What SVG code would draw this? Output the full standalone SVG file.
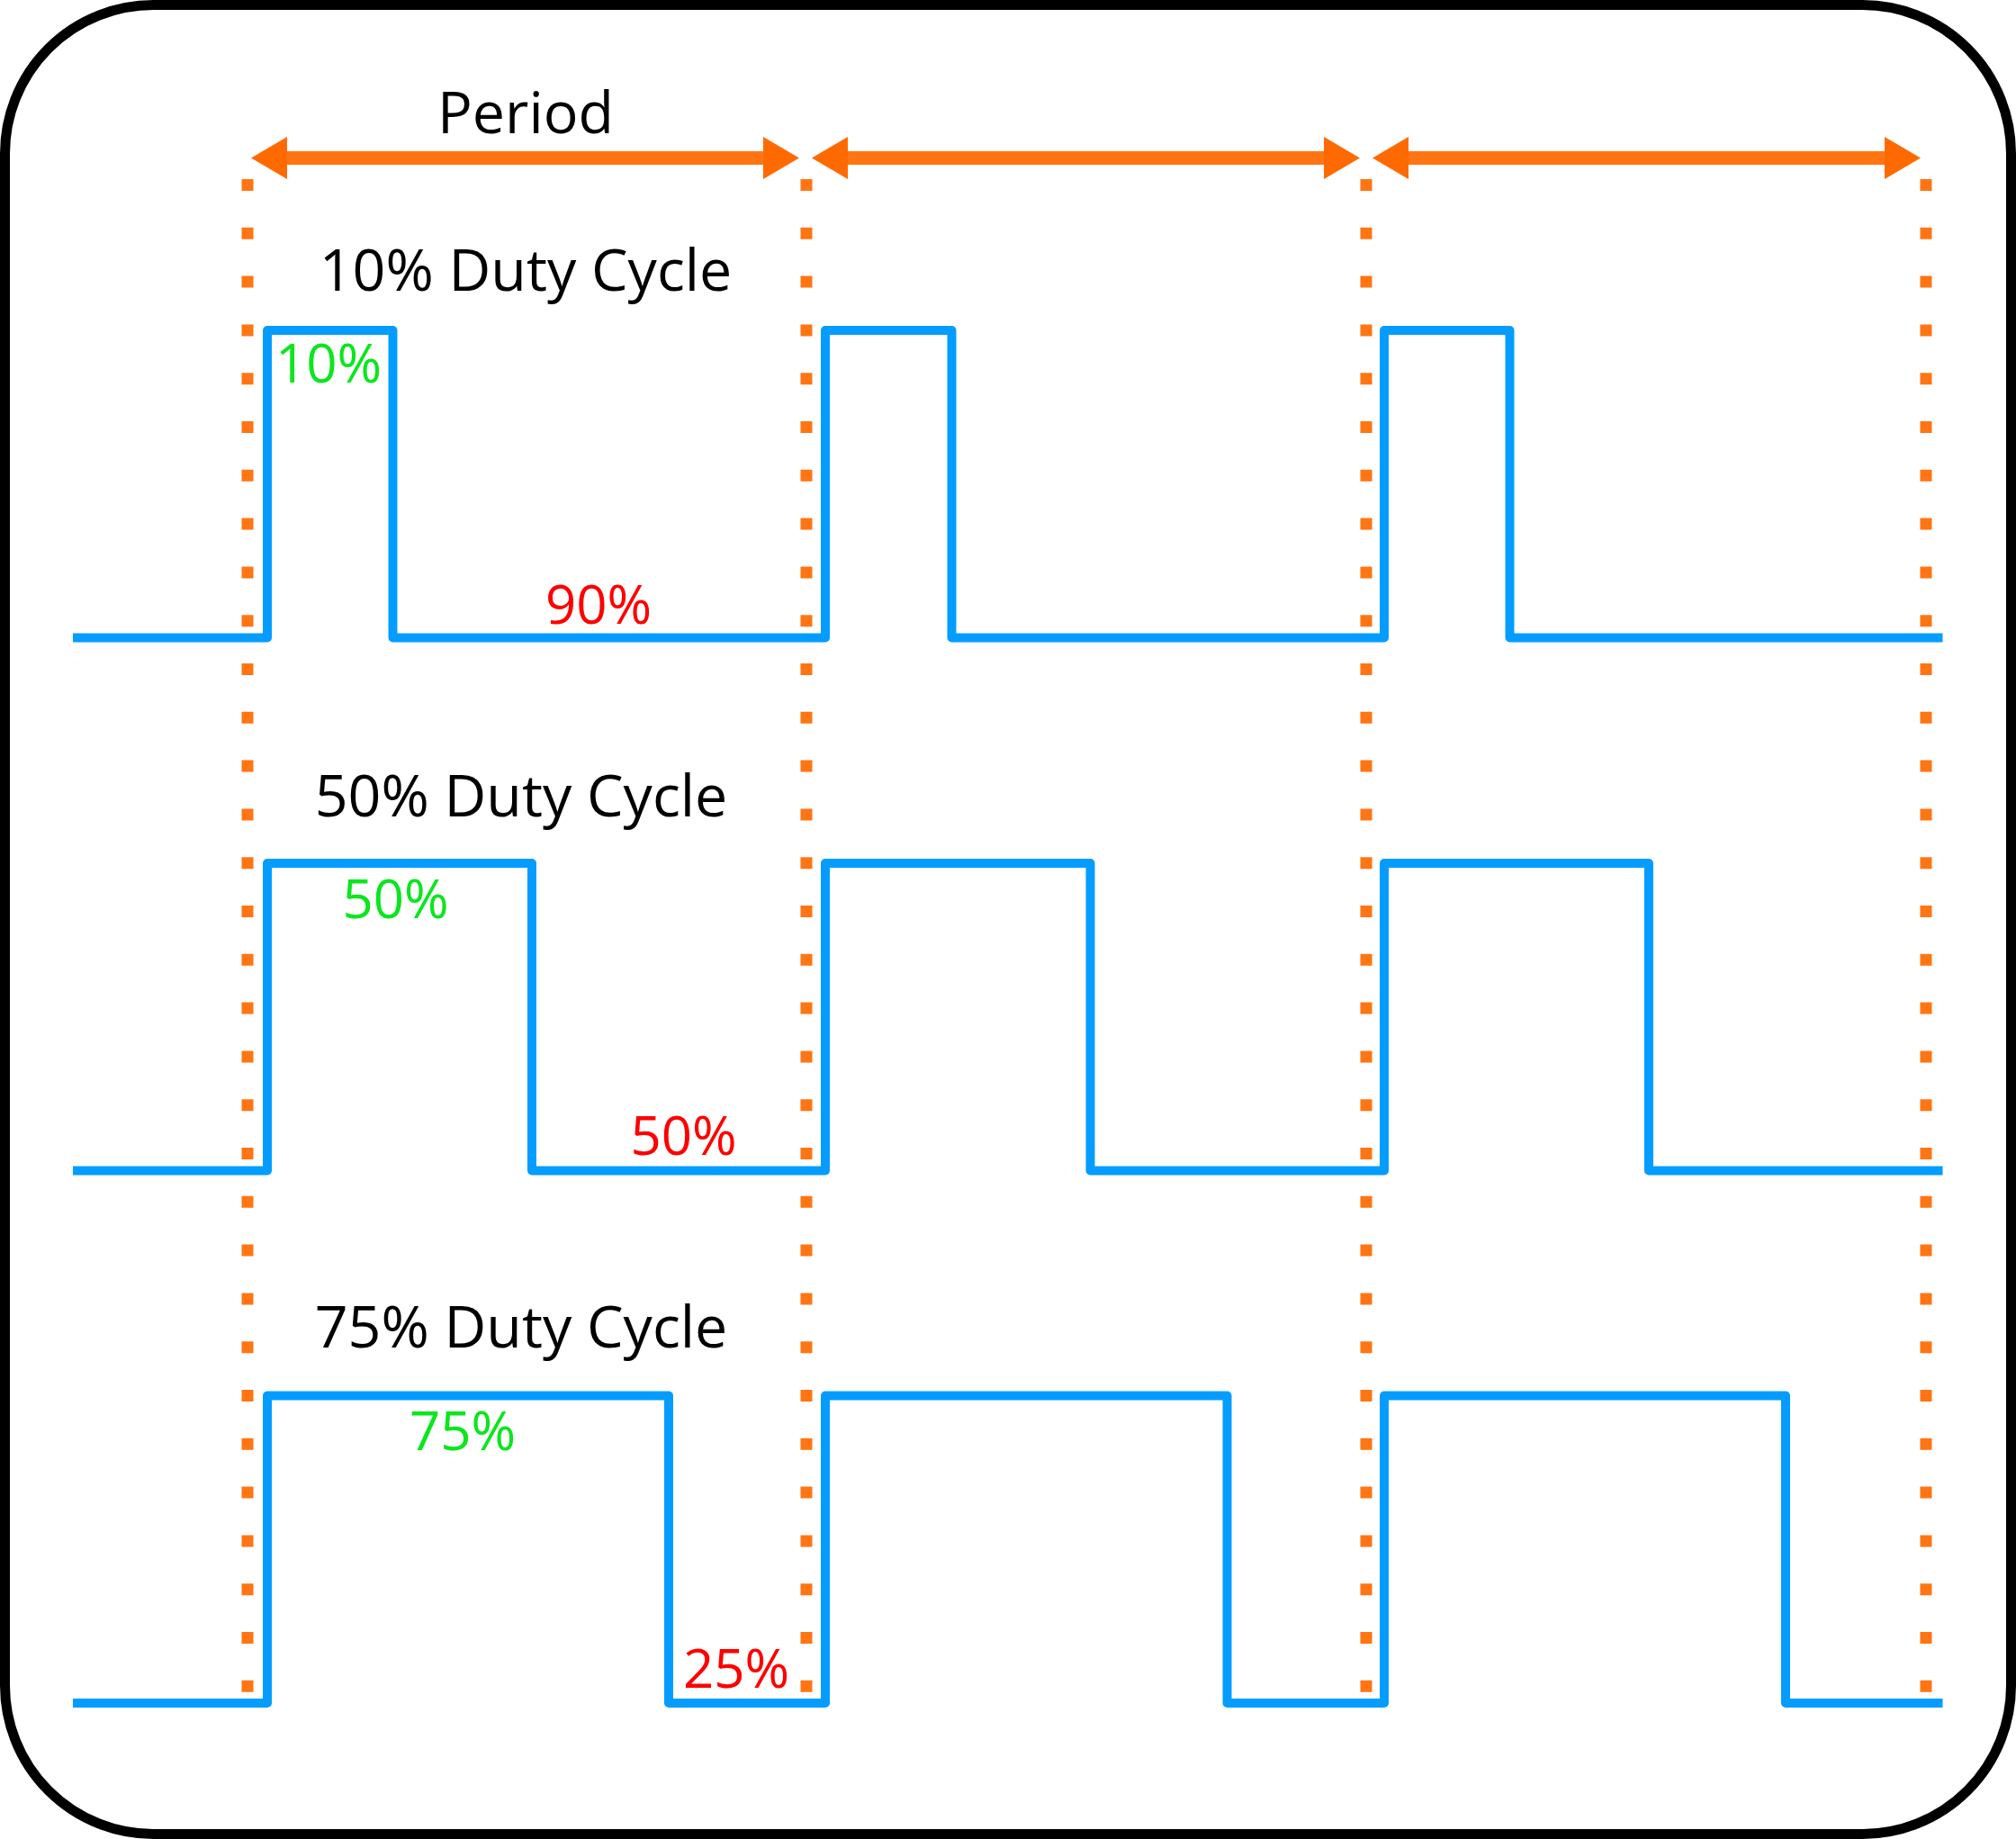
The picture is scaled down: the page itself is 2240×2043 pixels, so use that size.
<svg xmlns="http://www.w3.org/2000/svg" width="2240" height="2043" viewBox="0 0 2240 2043">
<style>
.frame{fill:#fff;stroke:#000;stroke-width:11}
.grid{stroke:#ff7514;stroke-width:13;stroke-dasharray:13 40.8;fill:none}
.arrow{stroke:#ff7514;stroke-width:15;fill:none;marker-start:url(#head);marker-end:url(#head)}
.wave{fill:none;stroke:#049dff;stroke-width:10;stroke-linejoin:round;stroke-linecap:butt}
.title{font-family:"Open Sans","Noto Sans",sans-serif;font-size:64.5px;fill:#000;text-anchor:middle}
.pct{font-family:"Open Sans","Noto Sans",sans-serif;font-size:60px;text-anchor:middle}
.hi{fill:#0be61e}
.lo{fill:#ff0000}
</style>
<defs>
<marker id="head" markerUnits="userSpaceOnUse" markerWidth="40" markerHeight="47" refX="0" refY="23.5" orient="auto-start-reverse" overflow="visible">
<path d="M0,0 L40,23.5 L0,47 Z" fill="#ff6a00"/>
</marker>
</defs>
<rect class="frame" x="5.5" y="5.5" width="2229" height="2032" rx="165" ry="165"/>
<g id="gridlines">
<line class="grid" x1="275" y1="199" x2="275" y2="1882"/>
<line class="grid" x1="896" y1="199" x2="896" y2="1882"/>
<line class="grid" x1="1518" y1="199" x2="1518" y2="1882"/>
<line class="grid" x1="2140" y1="199" x2="2140" y2="1882"/>
</g>
<g id="connectors">
<line class="arrow" x1="319" y1="175.5" x2="848" y2="175.5"/>
<line class="arrow" x1="942" y1="175.5" x2="1471" y2="175.5"/>
<line class="arrow" x1="1565" y1="175.5" x2="2094" y2="175.5"/>
</g>
<g id="period-label"><text class="title" x="584" y="148">Period</text></g>
<g id="wave-10">
<text class="title" x="584" y="323">10% Duty Cycle</text>
<path class="wave" d="M81,708.5 H297 V367 H436.5 V708.5 H917 V367 H1057.5 V708.5 H1538 V367 H1677.5 V708.5 H2158.5"/>
<text class="pct hi" x="365" y="425">10%</text>
<text class="pct lo" x="665" y="693">90%</text>
</g>
<g id="wave-50">
<text class="title" x="579" y="907">50% Duty Cycle</text>
<path class="wave" d="M81,1300.5 H297 V959 H591 V1300.5 H917 V959 H1211.5 V1300.5 H1538 V959 H1832 V1300.5 H2158.5"/>
<text class="pct hi" x="439.5" y="1020">50%</text>
<text class="pct lo" x="759.5" y="1283">50%</text>
</g>
<g id="wave-75">
<text class="title" x="579" y="1497">75% Duty Cycle</text>
<path class="wave" d="M81,1892 H297 V1550.5 H743 V1892 H917 V1550.5 H1363.5 V1892 H1538 V1550.5 H1984 V1892 H2158.5"/>
<text class="pct hi" x="514" y="1611">75%</text>
<text class="pct lo" x="818" y="1874.5">25%</text>
</g>
</svg>
